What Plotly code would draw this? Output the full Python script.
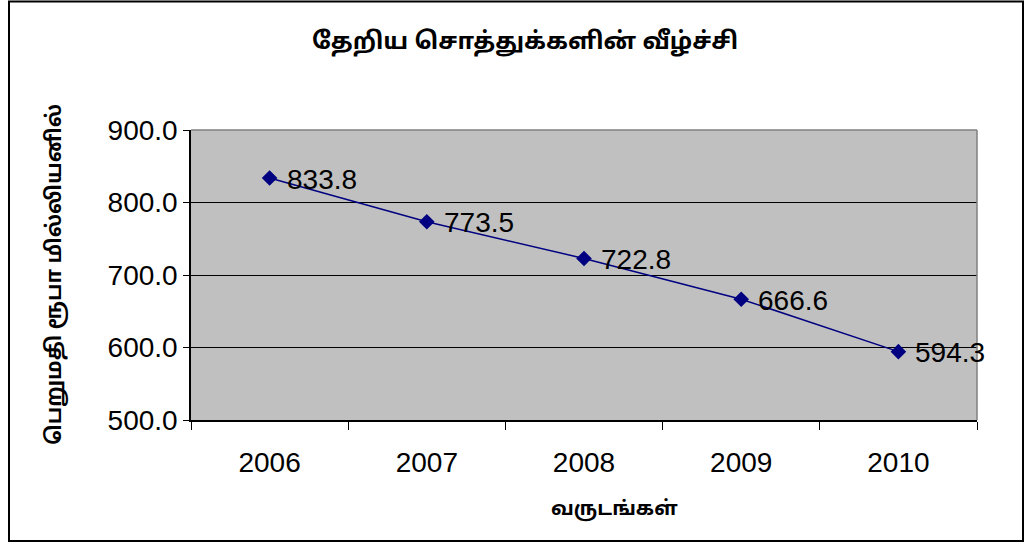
import plotly.graph_objects as go

years = ["2006", "2007", "2008", "2009", "2010"]
values = [833.8, 773.5, 722.8, 666.6, 594.3]
value_labels = ["833.8", "773.5", "722.8", "666.6", "594.3"]
y_ticks = [500, 600, 700, 800, 900]
y_tick_labels = ["500.0", "600.0", "700.0", "800.0", "900.0"]

title_text = "தேறிய சொத்துக்களின் வீழ்ச்சி"
y_title = "பெறுமதி ரூபா மில்லியனில்"
x_title = "வருடங்கள்"

W, H = 1026, 544
L, R, T, B = 191, 977, 130, 420
pw, ph = R - L, B - T

def px(x):
    return (x - L) / pw

def py(y):
    return (B - y) / ph

tamil_font = "Latha, 'Noto Sans Tamil', 'Lohit Tamil', 'Noto Sans', sans-serif"
num_font = "Arial, 'Liberation Sans', sans-serif"

fig = go.Figure()
fig.add_trace(go.Scatter(
    x=years, y=values, mode="lines+markers",
    line=dict(color="#000080", width=1.5),
    marker=dict(symbol="diamond", size=12, color="#000080"),
    cliponaxis=False, showlegend=False, hoverinfo="skip",
))

for i, (yv, lab) in enumerate(zip(values, value_labels)):
    fig.add_annotation(x=i, y=yv, text=lab, showarrow=False,
                       xanchor="left", yanchor="middle", xshift=15, yshift=-1,
                       font=dict(family=num_font, size=28, color="black"))

fig.update_layout(
    width=W, height=H,
    margin=dict(l=L, r=W - R, t=T, b=H - B),
    paper_bgcolor="white", plot_bgcolor="#C0C0C0",
    title=dict(text=title_text, x=525 / W, xanchor="center", y=1 - 41 / H, yanchor="middle",
               font=dict(family=tamil_font, size=24, color="black", weight="bold")),
    xaxis=dict(type="category", range=[-0.5, 4.5], tickson="boundaries",
               ticks="outside", ticklen=8, tickcolor="black", tickwidth=1,
               ticklabelstandoff=17,
               showgrid=False, showline=True, linecolor="black", linewidth=1.5,
               tickfont=dict(family=num_font, size=28, color="black")),
    yaxis=dict(range=[500, 900], tickvals=y_ticks, ticktext=y_tick_labels,
               ticks="outside", ticklen=6, tickcolor="black", tickwidth=1,
               showgrid=True, gridcolor="black", gridwidth=1,
               showline=True, linecolor="black", linewidth=1.5, zeroline=False,
               tickfont=dict(family=num_font, size=28, color="black")),
)

# axis titles
fig.add_annotation(xref="paper", yref="paper", x=px(56), y=py(275), text=y_title,
                   textangle=-90, showarrow=False, xanchor="center", yanchor="middle",
                   font=dict(family=tamil_font, size=21, color="black", weight="bold"))
fig.add_annotation(xref="paper", yref="paper", x=px(614), y=py(510), text=x_title,
                   showarrow=False, xanchor="center", yanchor="middle",
                   font=dict(family=tamil_font, size=20, color="black", weight="bold"))

# gray top/right plot border
fig.add_shape(type="line", xref="paper", yref="paper", x0=0, x1=1, y0=1, y1=1,
              line=dict(color="#808080", width=1.5))
fig.add_shape(type="line", xref="paper", yref="paper", x0=1, x1=1, y0=0, y1=1,
              line=dict(color="#808080", width=1.5))
# outer chart frame
fig.add_shape(type="rect", xref="paper", yref="paper",
              x0=px(9), x1=px(1023), y0=py(541), y1=py(1.5),
              line=dict(color="black", width=2), layer="below")

fig.write_html("out.html", config={"displayModeBar": False},
               post_script="document.body.style.margin='0';document.body.style.overflow='hidden';")
